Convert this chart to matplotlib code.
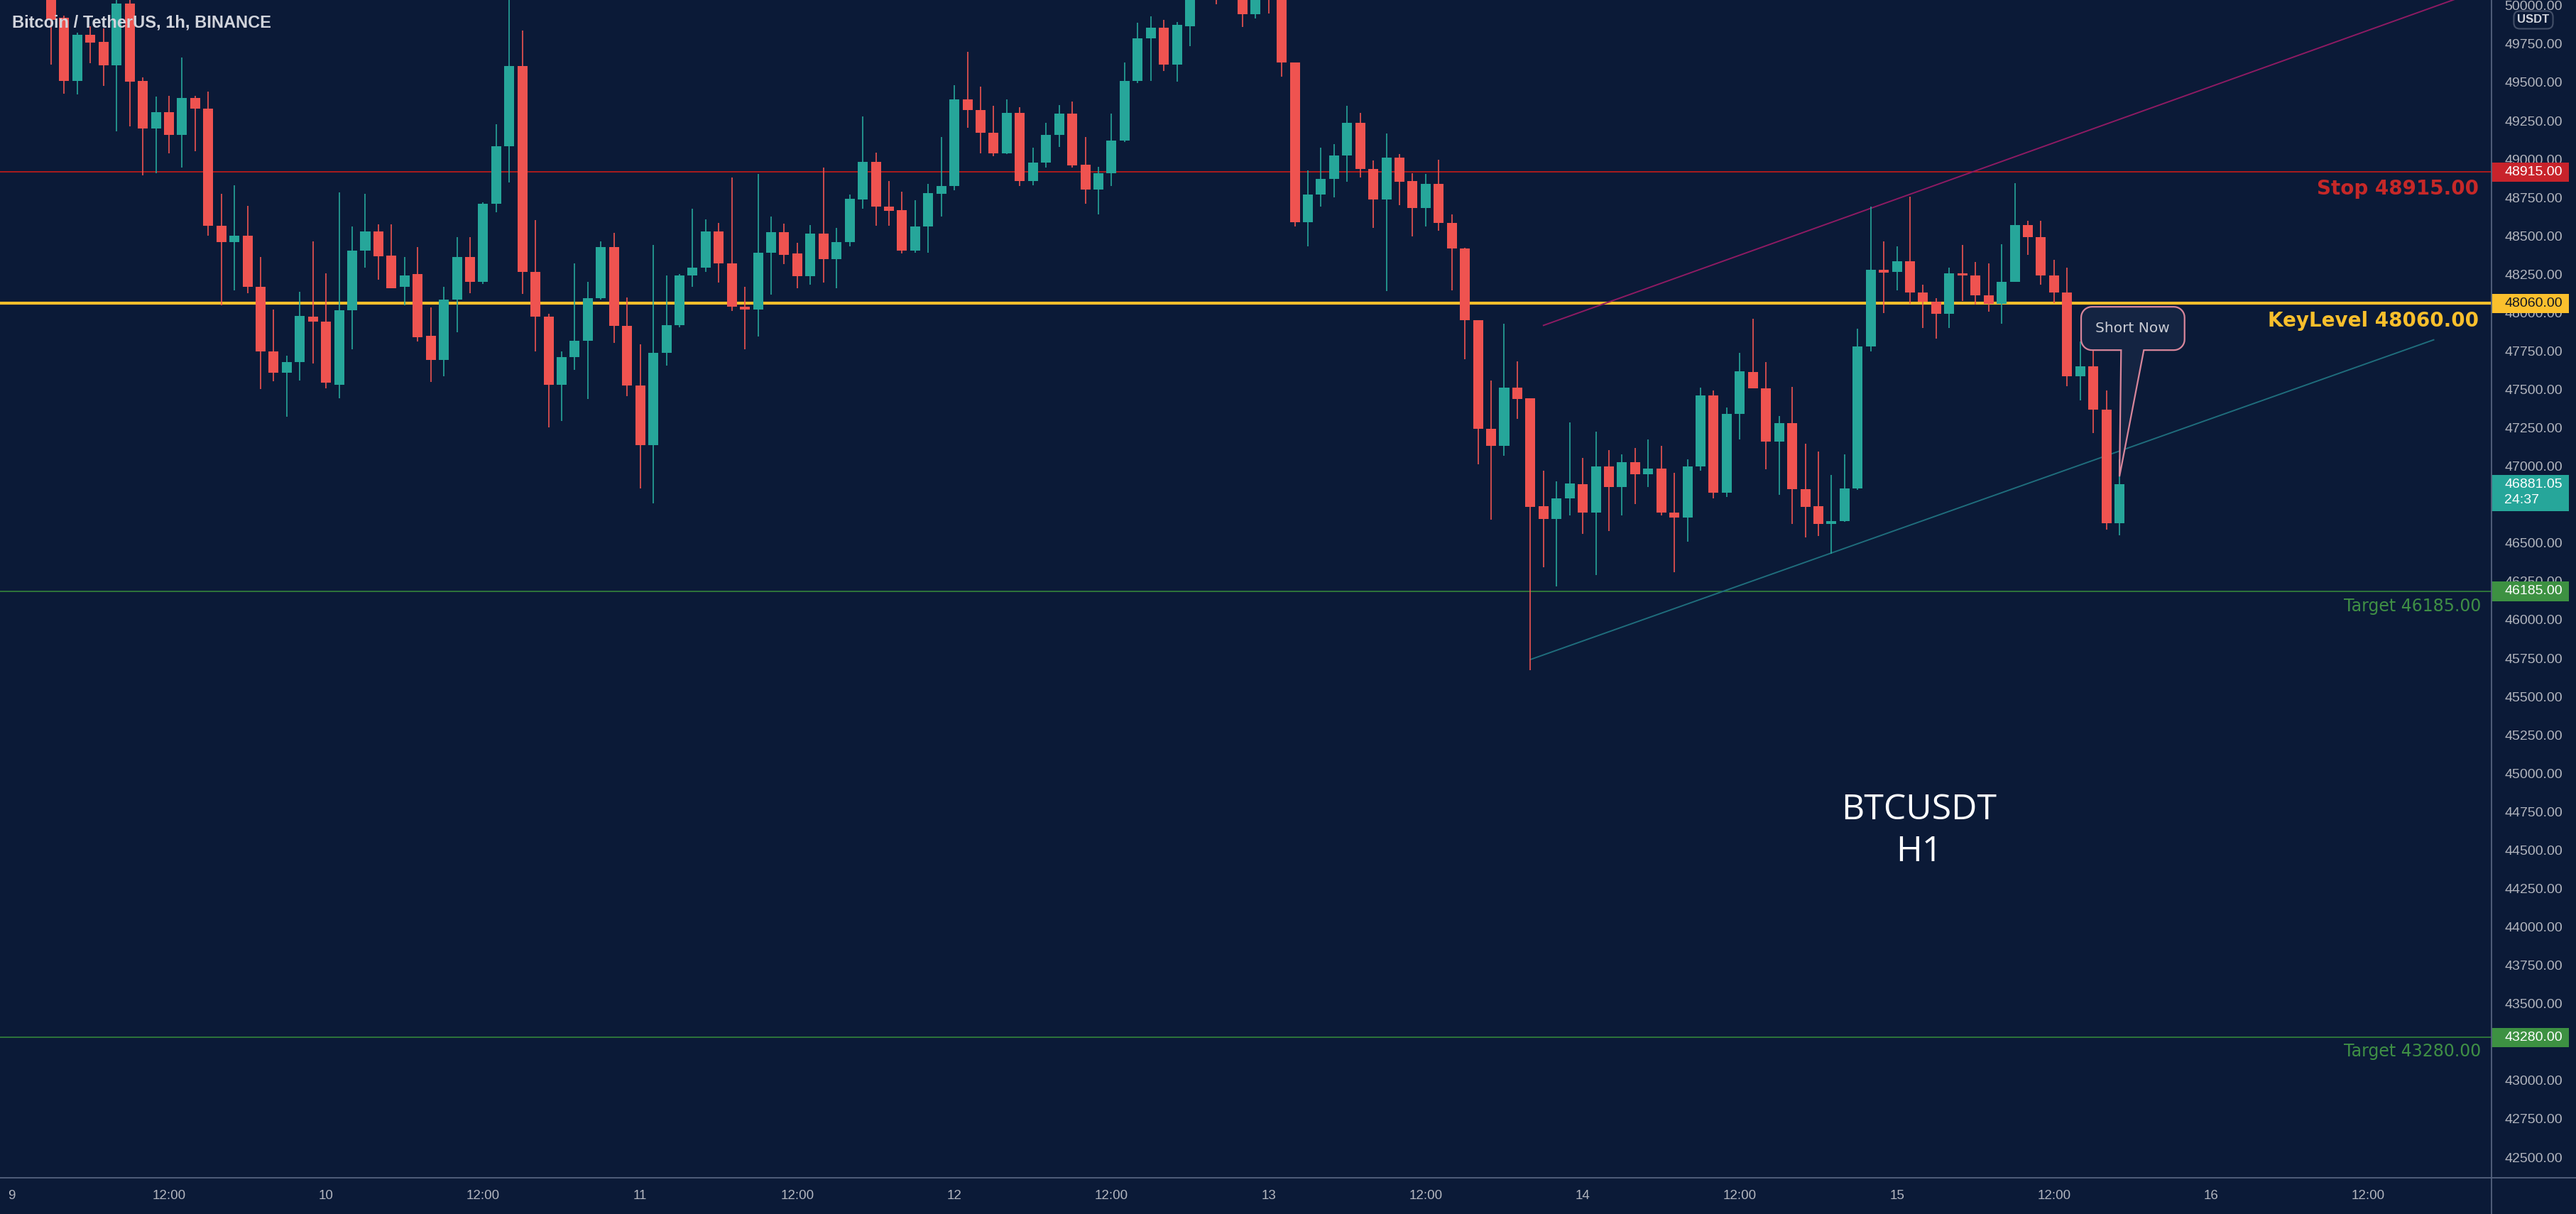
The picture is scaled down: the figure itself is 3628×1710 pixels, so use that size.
import matplotlib.pyplot as plt
import numpy as np
import matplotlib.transforms as mtransforms
from matplotlib.patches import Rectangle, Polygon
from matplotlib.lines import Line2D

plt.rcParams['font.family'] = ['Liberation Sans', 'DejaVu Sans']

# BTCUSDT 1h candles, first visible one is 9 Dec 03:00 (hour index 3)
first_hour = 3
opens = [
    50150, 49922, 49511, 49810, 49763, 49609, 50012, 49508, 49200, 49307, 49156, 49399, 49329,
    48566, 48459, 48501, 48168, 47749, 47609, 47679, 47973, 47942, 47531, 48015, 48406,
    48529, 48373, 48166, 48250, 47847, 47690, 48084, 48364, 48202, 48711, 49083, 49606, 48266,
    47973, 47531, 47712, 47819, 48096, 48426, 47914, 47525, 47136, 47740, 47917, 48244, 48293, 48529,
    48319, 48037, 48020, 48389, 48524, 48384, 48236, 48515, 48347, 48459, 48739, 48982, 48691,
    48666, 48403, 48560, 48773, 48826, 49388, 49321, 49173, 49038, 49301, 48859, 48977, 49156, 49296,
    48963, 48801, 48910, 49119, 49508, 49788, 49858, 49614, 49866, 50180, 50300, 50150, 50250,
    49945, 50120, 50080, 49628, 48588, 48767, 48870, 49024, 49234, 48935, 48736, 49010, 48856, 48683,
    48840, 48582, 48417, 47953, 47245, 47134, 47511, 47444, 46739, 46655, 46789, 46884, 46697,
    46999, 46865, 47027, 46949, 46985, 46700, 46666, 46999, 47461, 46826, 47340, 47615, 47508, 47161,
    47279, 46851, 46739, 46622, 46644, 46857, 47782, 48277, 48264, 48336, 48132, 48070, 47992,
    48258, 48244, 48115, 48057, 48202, 48571, 48493, 48244, 48132, 47587, 47651, 47368, 46630,
]
highs = [
    50250, 49936, 49824, 49866, 49852, 50060, 50060, 49531, 49405, 49413, 49662, 49413, 49441,
    48775, 48831, 48697, 48361, 48020, 47718, 48138, 48462, 48258, 48781, 48560, 48775,
    48574, 48574, 48361, 48426, 48034, 48166, 48490, 48490, 48719, 49228, 50080, 49838, 48602,
    47992, 47746, 48322, 48202, 48462, 48518, 48098, 47796, 48440, 48244, 48250, 48677, 48608, 48585,
    48879, 48166, 48901, 48627, 48580, 48454, 48571, 48943, 48552, 48770, 49276, 49041, 48859,
    48787, 48733, 48840, 49145, 49483, 49698, 49472, 49349, 49391, 49340, 49075, 49234, 49354, 49374,
    49145, 48949, 49296, 49628, 49886, 49928, 49905, 49894, 50250, 50400, 50380, 50350, 50300,
    50200, 50180, 50150, 49628, 48926, 49075, 49097, 49349, 49301, 48991, 49167, 49033, 48907, 48904,
    48996, 48641, 48423, 47953, 47559, 47928, 47684, 47444, 46971, 46901, 47285, 47055, 47223,
    47106, 47075, 47117, 47175, 47134, 46957, 47047, 47511, 47494, 47382, 47740, 47959, 47676, 47329,
    47517, 47148, 47097, 46943, 47075, 47894, 48691, 48462, 48434, 48756, 48180, 48096, 48294,
    48440, 48328, 48322, 48445, 48845, 48599, 48599, 48342, 48294, 47810, 47782, 47494, 47047,
]
lows = [
    49614, 49424, 49419, 49623, 49475, 49181, 49214, 48896, 48907, 49036, 48943, 49049, 48501,
    48048, 48146, 48126, 47503, 47553, 47321, 47559, 47671, 47508, 47441, 47763, 48291,
    48216, 48160, 48048, 47810, 47550, 47587, 47872, 48126, 48188, 48655, 48848, 48121, 47746,
    47251, 47293, 47629, 47438, 48084, 47802, 47455, 46857, 46756, 47657, 47903, 48166, 48263, 48194,
    48012, 47763, 47844, 48118, 48314, 48160, 48182, 48196, 48160, 48431, 48677, 48566, 48566,
    48384, 48392, 48390, 48627, 48795, 49203, 49038, 49021, 49035, 48823, 48831, 48943, 49080, 48943,
    48711, 48638, 48823, 49110, 49494, 49508, 49572, 49503, 49735, 50100, 50010, 50080, 49861,
    49914, 49950, 49536, 48560, 48431, 48689, 48753, 48851, 48879, 48554, 48141, 48700, 48498, 48560,
    48532, 48146, 47698, 47013, 46650, 47069, 47307, 45671, 46342, 46216, 46678, 46557, 46292,
    46580, 46678, 46753, 46865, 46678, 46308, 46510, 46971, 46789, 46798, 47175, 47508, 46980, 46812,
    46622, 46538, 46546, 46431, 46636, 46846, 47746, 47998, 48146, 48059, 47900, 47833, 47900,
    48076, 48054, 48006, 47928, 48202, 48378, 48180, 48062, 47522, 47427, 47217, 46588, 46552,
]
closes = [
    49908, 49508, 49810, 49760, 49609, 50012, 49503, 49200, 49307, 49156, 49399, 49329, 48566,
    48459, 48501, 48168, 47749, 47609, 47679, 47978, 47942, 47545, 48015, 48406, 48529,
    48367, 48160, 48244, 47838, 47690, 48084, 48364, 48202, 48711, 49083, 49606, 48266, 47973,
    47531, 47712, 47819, 48096, 48426, 47914, 47525, 47136, 47740, 47917, 48244, 48293, 48529, 48319,
    48037, 48020, 48389, 48524, 48378, 48236, 48515, 48347, 48459, 48742, 48982, 48691, 48664,
    48403, 48560, 48778, 48826, 49388, 49321, 49173, 49038, 49301, 48859, 48977, 49156, 49296, 48960,
    48801, 48910, 49119, 49508, 49788, 49858, 49614, 49872, 50180, 50300, 50150, 50250, 49942,
    50120, 50080, 49628, 48588, 48770, 48870, 49024, 49234, 48935, 48736, 49010, 48851, 48683, 48840,
    48582, 48417, 47953, 47245, 47134, 47511, 47438, 46734, 46655, 46789, 46887, 46697, 46999,
    46865, 47027, 46949, 46985, 46697, 46666, 46999, 47461, 46826, 47340, 47620, 47508, 47161, 47279,
    46851, 46734, 46622, 46644, 46857, 47782, 48277, 48261, 48336, 48132, 48070, 47992, 48258,
    48244, 48115, 48057, 48202, 48571, 48493, 48244, 48132, 47587, 47651, 47368, 46630, 46881.05,
]

day_names = ['9', '10', '11', '12', '13', '14', '15', '16']
price_ticks = np.arange(42500, 50001, 250)
hidden_ticks = [46750, 43250]  # covered by the price tags on the scale

stop_level = 48915
key_level = 48060
targets = [46185, 43280]
last_price = 46881.05
countdown = '24:37'

# trend lines (hour index, price)
upper_line = [(117, 47917), (187, 50052)]
lower_line = [(116, 45741), (185, 47823)]
short_tip = (161.0, 46933)

BG = '#0b1a37'
UP = '#26a69a'
DOWN = '#ef5350'
TXT = '#b2b5be'

W, H = 3628, 1710
fig = plt.figure(figsize=(W / 100, H / 100), dpi=100, facecolor=BG)
ax = fig.add_axes([0, 51 / H, 3509 / W, 1659 / H], facecolor=BG)

o = np.array(opens)
hi = np.array(highs)
lo = np.array(lows)
c = np.array(closes)
x = first_hour + np.arange(len(o))
colors = np.where(c >= o, UP, DOWN)

ax.vlines(x, lo, hi, colors=colors, linewidth=1.2, zorder=3)
ax.bar(x, np.maximum(np.abs(c - o), 7), bottom=np.minimum(o, c), width=0.76,
       color=colors, linewidth=0, zorder=4)

ax.set_xlim(-0.906, 189.42)
ax.set_ylim(42366, 50036)

# level lines
ax.axhline(stop_level, color='#b71c1c', lw=1.3, zorder=2)
ax.axhline(key_level, color='#f9bf2c', lw=3, zorder=2)
for t in targets:
    ax.axhline(t, color='#388e3c', lw=1.1, zorder=2)

ax.plot(*zip(*upper_line), color='#8e1a63', lw=1.4, zorder=2)
ax.plot(*zip(*lower_line), color='#1f6d7c', lw=1.4, zorder=2)

# axes ticks
xt = np.arange(0, 24 * len(day_names), 12)
xl = []
for d in day_names:
    xl += [d, '12:00']
ax.set_xticks(xt)
ax.set_xticklabels(xl)
ax.yaxis.tick_right()
ax.set_yticks(price_ticks)
ax.set_yticklabels(['' if v in hidden_ticks else f'{v:.2f}' for v in price_ticks])
ax.tick_params(axis='x', length=0, pad=12, labelsize=13.5, labelcolor=TXT)
ax.tick_params(axis='y', length=0, pad=13, labelsize=14, labelcolor=TXT)
for s in ax.spines.values():
    s.set_visible(False)

fig.add_artist(Line2D([0, 1], [51 / H, 51 / H], color='#55637f', lw=1.3))
fig.add_artist(Line2D([3509 / W, 3509 / W], [0, 1], color='#55637f', lw=1.3))

# level labels
bt = mtransforms.blended_transform_factory(ax.transAxes, ax.transData)
dj = ['DejaVu Sans']
ax.text(0.99487, 48806, 'Stop 48915.00', transform=bt, ha='right', va='center',
        fontsize=20, fontweight='bold', color='#c62828', family=dj, zorder=8)
ax.text(0.99487, 47946, 'KeyLevel 48060.00', transform=bt, ha='right', va='center',
        fontsize=20, fontweight='bold', color='#f9bf2c', family=dj, zorder=8)
ax.text(0.9957, 46087, 'Target 46185.00', transform=bt, ha='right', va='center',
        fontsize=17, color='#3f8f45', family=dj, zorder=8)
ax.text(0.9957, 43189, 'Target 43280.00', transform=bt, ha='right', va='center',
        fontsize=17, color='#3f8f45', family=dj, zorder=8)

big = ['Open Sans', 'DejaVu Sans']
ax.text(145.7, 44761, 'BTCUSDT', ha='center', va='center', fontsize=36,
        color='white', family=big, zorder=8)
ax.text(145.7, 44488, 'H1', ha='center', va='center', fontsize=36,
        color='white', family=big, zorder=8)

# price tags on the scale
px = 0.2163  # pixels per price unit
tag_w = (3618 - 3509) / 3509
tx = (3527 - 3509) / 3509 + 1


def tag(price, label, bg, fg):
    half = 13.7 / px
    ax.add_patch(Rectangle((1, price - half), tag_w, 2 * half, transform=bt,
                           facecolor=bg, edgecolor='none', clip_on=False, zorder=10))
    ax.text(tx, price, label, transform=bt, ha='left', va='center', fontsize=14,
            color=fg, clip_on=False, zorder=11)


tag(stop_level, f'{stop_level:.2f}', '#c8232b', 'white')
tag(key_level, f'{key_level:.2f}', '#fbc02d', '#131722')
for t in targets:
    tag(t, f'{t:.2f}', '#3d9142', 'white')

top = last_price + 13.3 / px
bot = top - 51 / px
ax.add_patch(Rectangle((1, bot), tag_w, top - bot, transform=bt, facecolor=UP,
                       edgecolor='none', clip_on=False, zorder=10))
ax.text(tx, last_price, f'{last_price:.2f}', transform=bt, ha='left', va='center',
        fontsize=14, color='white', clip_on=False, zorder=11)
ax.text(tx, last_price - 22 / px, countdown, transform=bt, ha='left', va='center',
        fontsize=14, color='white', clip_on=False, zorder=11)

fig.text(3568 / W, 1 - 28 / H, 'USDT', ha='center', va='center', fontsize=12,
         color='#d1d4dc', fontweight='bold',
         bbox=dict(boxstyle='round,pad=0.3,rounding_size=0.5', fc=BG, ec='#434f68', lw=1.5))

fig.text(17 / W, 1 - 31.5 / H, 'Bitcoin / TetherUS, 1h, BINANCE', ha='left', va='center',
         fontsize=17, fontweight='bold', color='#d1d4dc')

# "Short Now" callout, shape in pixels relative to the tip
L, R, T, B, r = -54, 91.7, 239, 178, 15
wl, wr = 2.3, 34.3


def arc(cx, cy, a0, a1):
    a = np.radians(np.linspace(a0, a1, 10))
    return list(zip(cx + r * np.cos(a), cy + r * np.sin(a)))


pts = [(wr, B)]
pts += arc(R - r, B + r, -90, 0)
pts += arc(R - r, T - r, 0, 90)
pts += arc(L + r, T - r, 90, 180)
pts += arc(L + r, B + r, 180, 270)
pts += [(wl, B), (0, 0)]
ctr = mtransforms.Affine2D() + mtransforms.ScaledTranslation(short_tip[0], short_tip[1], ax.transData)
ax.add_patch(Polygon(pts, closed=True, transform=ctr, facecolor='#142442',
                     edgecolor='#d8869b', lw=1.6, zorder=7, clip_on=False))
ax.text(18.5, 209, 'Short Now', transform=ctr, ha='center', va='center', fontsize=14.5,
        color='#c9cbd3', family=dj, zorder=8)

fig.savefig('out.png', dpi=100, facecolor=BG)
